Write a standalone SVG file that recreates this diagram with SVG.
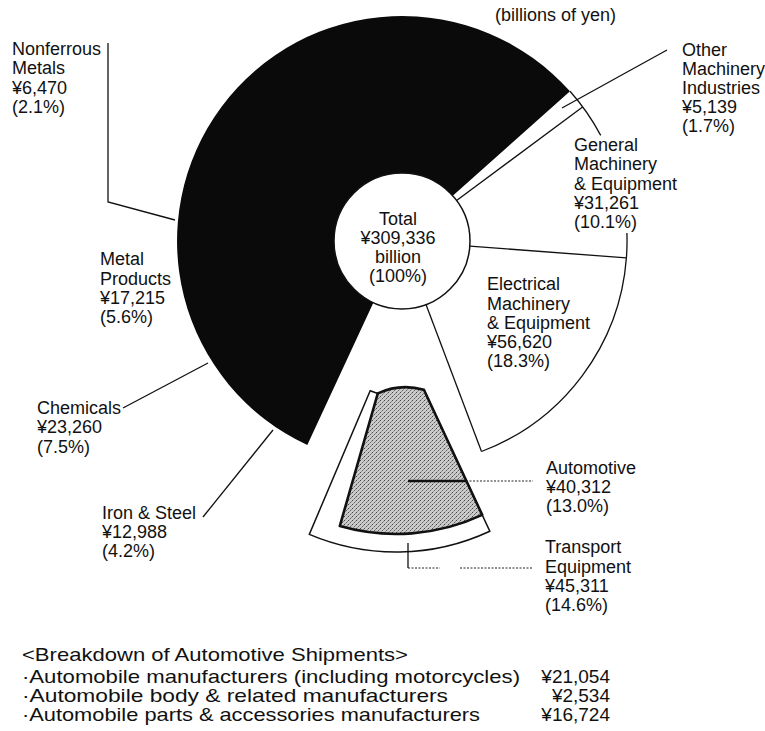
<svg xmlns="http://www.w3.org/2000/svg" width="765" height="731" viewBox="0 0 765 731">
<defs>
  <pattern id="stip" width="4" height="4" patternUnits="userSpaceOnUse">
    <rect width="4" height="4" fill="#cbcbcb"/>
    <rect x="0" y="0" width="1" height="1" fill="#444"/>
    <rect x="2" y="2" width="1" height="1" fill="#666"/>
    <rect x="3" y="1" width="1" height="1" fill="#888"/>
    <rect x="1" y="3" width="1" height="1" fill="#999"/>
  </pattern>
</defs>
<style>
  text { font-family: "Liberation Sans", Arial, Helvetica, sans-serif; font-size: 18px; fill: #111; }
  .ol { fill: #fff; stroke: #111; stroke-width: 1.5; }
  .ln { fill: none; stroke: #111; stroke-width: 1.3; }
  .thick { fill: none; stroke: #111; stroke-width: 2.6; }
  .dot { fill: none; stroke: #222; stroke-width: 1; stroke-dasharray: 2 1.5; }
  .bt { font-size: 19px; }
</style>
<rect width="765" height="731" fill="#fff"/>

<text x="495" y="21">(billions of yen)</text>

<g id="black-industries">
  <path d="M402 241 L570.0 91.3 A225 225 0 1 0 307.3 445.1 Z" fill="#0a0a0a"/>
</g>

<g id="other-machinery">
  <path class="ln" d="M570.0 91.3 A225 225 0 0 1 600.7 135.4"/>
  <path class="ln" d="M456.6 200.5 L582.6 106.9"/>
  <text x="682" y="56">Other</text>
  <text x="682" y="75">Machinery</text>
  <text x="682" y="94">Industries</text>
  <text x="682" y="113">¥5,139</text>
  <text x="682" y="132">(1.7%)</text>
</g>

<g id="general-machinery">
  <path class="ln" d="M626.9 233.1 A225 225 0 0 1 626.4 257.9"/>
  <path class="ln" d="M469.8 246.1 L626.4 257.9"/>
  <text x="574" y="151">General</text>
  <text x="574" y="170">Machinery</text>
  <text x="574" y="190">&amp; Equipment</text>
  <text x="574" y="209">¥31,261</text>
  <text x="574" y="228">(10.1%)</text>
</g>

<g id="electrical-machinery">
  <path class="ln" d="M626.4 257.9 A225 225 0 0 1 481.5 451.5"/>
  <path class="ln" d="M426.0 304.6 L481.5 451.5"/>
  <text x="487" y="290">Electrical</text>
  <text x="487" y="310">Machinery</text>
  <text x="487" y="329">&amp; Equipment</text>
  <text x="487" y="348">¥56,620</text>
  <text x="487" y="367">(18.3%)</text>
</g>

<g id="transport-equipment">
  <path class="ol" d="M423.9 389.8 L489.8 531.2 A222 222 0 0 1 309.3 534.4 L370.2 390.8 A66 66 0 0 0 423.9 389.8 Z"/>
  <text x="545" y="553">Transport</text>
  <text x="545" y="573">Equipment</text>
  <text x="545" y="592">¥45,311</text>
  <text x="545" y="611">(14.6%)</text>
</g>

<g id="automotive">
  <path d="M423.9 389.8 L482.2 514.9 A204 204 0 0 1 339.8 526.1 L377.8 393.4 A66 66 0 0 1 423.9 389.8 Z" fill="url(#stip)" stroke="#111" stroke-width="2.6" stroke-linejoin="round"/>
  <text x="546" y="474">Automotive</text>
  <text x="546" y="493">¥40,312</text>
  <text x="546" y="512">(13.0%)</text>
</g>

<g id="total">
  <circle class="ol" cx="402" cy="241" r="68"/>
  <text x="398" y="225" text-anchor="middle">Total</text>
  <text x="398" y="244" text-anchor="middle">¥309,336</text>
  <text x="398" y="263" text-anchor="middle">billion</text>
  <text x="398" y="282" text-anchor="middle">(100%)</text>
</g>

<g id="nonferrous-metals">
  <text x="12" y="55">Nonferrous</text>
  <text x="12" y="74">Metals</text>
  <text x="12" y="94">¥6,470</text>
  <text x="12" y="113">(2.1%)</text>
</g>

<g id="metal-products">
  <text x="100" y="265">Metal</text>
  <text x="100" y="285">Products</text>
  <text x="100" y="304">¥17,215</text>
  <text x="100" y="323">(5.6%)</text>
</g>

<g id="chemicals">
  <text x="37" y="414">Chemicals</text>
  <text x="37" y="433">¥23,260</text>
  <text x="37" y="453">(7.5%)</text>
</g>

<g id="iron-steel">
  <text x="102" y="519">Iron &amp; Steel</text>
  <text x="102" y="538">¥12,988</text>
  <text x="102" y="557">(4.2%)</text>
</g>

<g id="connectors">
  <path class="ln" d="M108 43 L108 202 L175 220"/>
  <path class="ln" d="M667 50 L562 108"/>
  <path class="ln" d="M123 408 L208 363"/>
  <path class="ln" d="M203 517 L273 430"/>
  <path class="thick" d="M408 481 L466 481"/>
  <path class="dot" d="M466 481 L533 481"/>
  <path class="ln" d="M408 543 L408 568"/>
  <path class="dot" d="M408 568 L440 568 M460 568 L533 568"/>
</g>

<g id="breakdown">
  <text class="bt" x="22" y="661" textLength="386" lengthAdjust="spacingAndGlyphs">&lt;Breakdown of Automotive Shipments&gt;</text>
  <text class="bt" x="22" y="683" textLength="498" lengthAdjust="spacingAndGlyphs">·Automobile manufacturers (including motorcycles)</text>
  <text class="bt" x="22" y="702" textLength="426" lengthAdjust="spacingAndGlyphs">·Automobile body &amp; related manufacturers</text>
  <text class="bt" x="22" y="721" textLength="458" lengthAdjust="spacingAndGlyphs">·Automobile parts &amp; accessories manufacturers</text>
  <text class="bt" x="610" y="683" text-anchor="end">¥21,054</text>
  <text class="bt" x="610" y="702" text-anchor="end">¥2,534</text>
  <text class="bt" x="610" y="721" text-anchor="end">¥16,724</text>
</g>
</svg>
